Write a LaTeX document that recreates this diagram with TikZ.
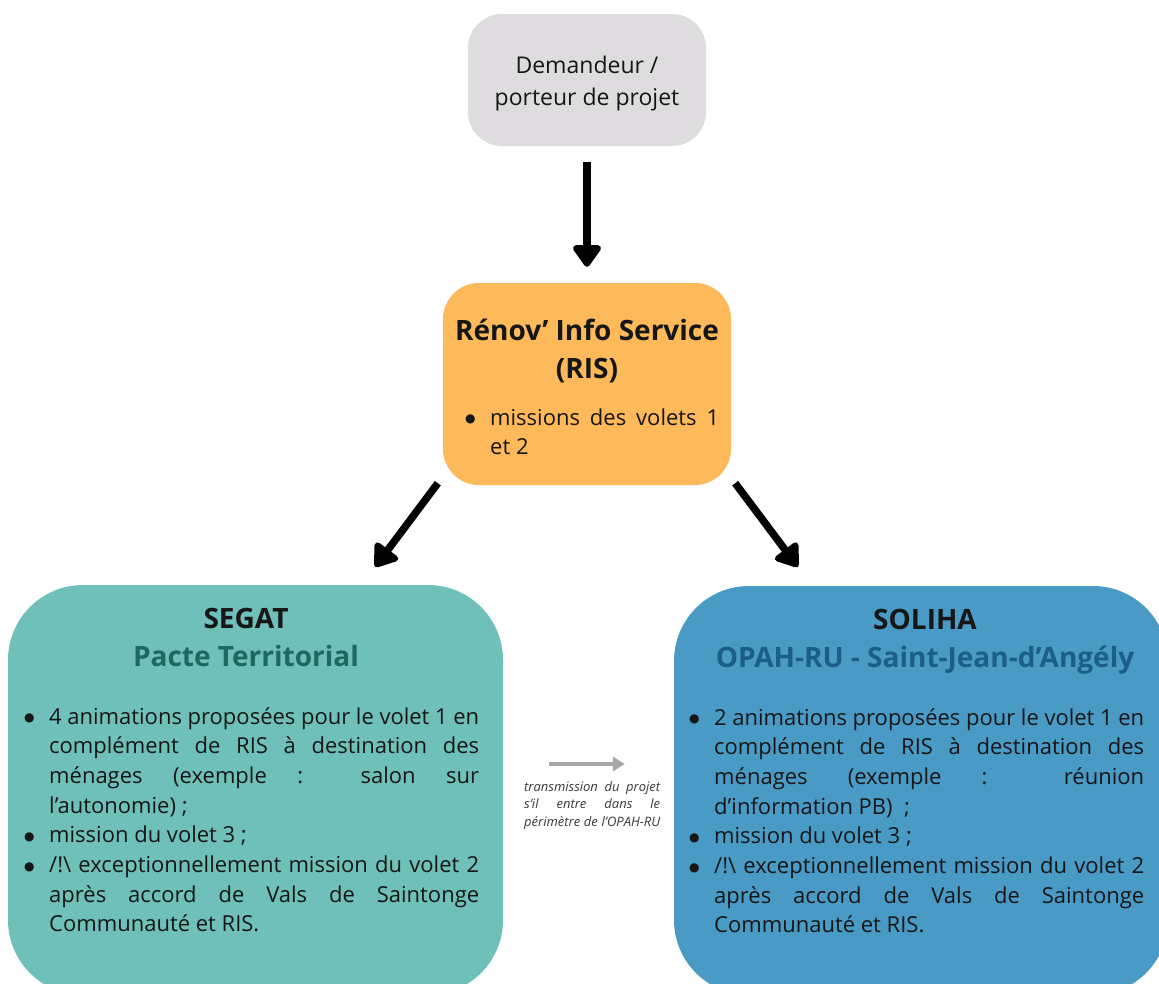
\documentclass[tikz,border=0pt]{standalone}
\usepackage{fontspec}
\setmainfont{Open Sans}
\newfontfamily\symfont{DejaVu Sans}
\usetikzlibrary{arrows.meta}
\definecolor{graybg}{HTML}{DEDCDE}
\definecolor{orangebg}{HTML}{FDB95A}
\definecolor{tealbg}{HTML}{6EC0B8}
\definecolor{bluebg}{HTML}{4A9AC6}
\definecolor{tealtitle}{HTML}{1F6860}
\definecolor{bluetitle}{HTML}{1B5E88}
\definecolor{bodytext}{HTML}{161616}
\definecolor{grayarrow}{HTML}{A6A6A6}
\newcommand\bodyfont{\fontsize{22}{29.7}\selectfont}
\newcommand\topfont{\fontsize{23}{32}\selectfont}
\newcommand\titlefont{\bfseries\fontsize{28}{38.5}\selectfont}
\newcommand\smallfont{\itshape\fontsize{13}{17.5}\selectfont}
% bullet column 27pt wide, text column follows
\newcommand\bul{\makebox[27pt][l]{\hspace{2pt}\raisebox{2.5pt}{\symfont\fontsize{12}{12}\selectfont ●}}}
\newcommand\ind{\hspace*{27pt}}
\newcommand\jl[1]{\makebox[\linewidth][s]{#1}}
\newcommand\bj[2]{\makebox[#1][s]{#2}}
\begin{document}
\begin{tikzpicture}[x=1pt,y=-1pt,
  box/.style={draw=none, inner sep=0pt},
  txt/.style={inner sep=0pt, anchor=base west, text=bodytext},
  ctxt/.style={inner sep=0pt, anchor=base, text=bodytext},
  bigarrow/.style={line width=7.5pt, black, -{Triangle[width=32pt,length=24pt,round]}},
  smallarrow/.style={line width=4pt, grayarrow, -{Triangle[width=14pt,length=12pt]}}]
\useasboundingbox (0,0) rectangle (1159,983);
\clip (0,0) rectangle (1159,983);
\fill[white] (0,0) rectangle (1159,983);

% boxes
\node[box, fill=graybg, minimum width=238pt, minimum height=132pt, rounded corners=34pt] (dem) at (587,80) {};
\node[box, fill=orangebg, minimum width=288pt, minimum height=202pt, rounded corners=36pt] (ris) at (587,384) {};
\node[box, fill=tealbg, minimum width=495pt, minimum height=410pt, rounded corners=75pt] (segat) at (255.5,790) {};
\node[box, fill=bluebg, minimum width=494pt, minimum height=409pt, rounded corners=75pt] (soliha) at (921,790.5) {};

% top text
\node[ctxt, font=\topfont] (demtext) at (587,73)
  {\parbox[t]{230pt}{\centering Demandeur /\\porteur de projet}};

% RIS text
\node[ctxt, font=\titlefont] (ristitle) at (587,340)
  {\parbox[t]{290pt}{\centering Rénov’ Info Service\\(RIS)}};
\node[txt, font=\bodyfont] (ristext) at (463,425)
  {\parbox[t]{256pt}{\bul\bj{229pt}{missions des volets 1}\\\ind et 2}};

% SEGAT text
\node[ctxt, font=\titlefont] (segattitle) at (246,628)
  {\parbox[t]{440pt}{\centering SEGAT\\\textcolor{tealtitle}{Pacte Territorial}}};
\node[txt, font=\bodyfont] (segattext) at (22,724)
  {\parbox[t]{457pt}{%
  \bul\bj{430pt}{4 animations proposées pour le volet 1 en}\\
  \ind\bj{430pt}{complément de RIS à destination des}\\
  \ind\bj{430pt}{ménages (exemple : salon sur}\\
  \ind l’autonomie) ;\\
  \bul mission du volet 3 ;\\
  \bul\bj{430pt}{/!\textbackslash{} exceptionnellement mission du volet 2}\\
  \ind\bj{430pt}{après accord de Vals de Saintonge}\\
  \ind Communauté et RIS.}};

% SOLIHA text
\node[ctxt, font=\titlefont] (solihatitle) at (925,629)
  {\parbox[t]{470pt}{\centering SOLIHA\\\textcolor{bluetitle}{OPAH-RU - Saint-Jean-d’Angély}}};
\node[txt, font=\bodyfont] (solihatext) at (687,725)
  {\parbox[t]{457pt}{%
  \bul\bj{430pt}{2 animations proposées pour le volet 1 en}\\
  \ind\bj{430pt}{complément de RIS à destination des}\\
  \ind\bj{430pt}{ménages (exemple : réunion}\\
  \ind d’information PB) \ ;\\
  \bul mission du volet 3 ;\\
  \bul\bj{430pt}{/!\textbackslash{} exceptionnellement mission du volet 2}\\
  \ind\bj{430pt}{après accord de Vals de Saintonge}\\
  \ind Communauté et RIS.}};

% small italic text
\node[txt, font=\smallfont, text=bodytext!85] (transtext) at (524,791)
  {\parbox[t]{136pt}{%
  \jl{transmission du projet}\\
  \jl{s’il entre dans le}\\
  \jl{périmètre de l’OPAH-RU}}};

% arrows
\draw[bigarrow] ([yshift=-16pt]dem.south) -- ([yshift=16pt]ris.north);
\coordinate (l1) at ([xshift=-5pt,yshift=2pt]ris.south west);
\coordinate (l2) at ([xshift=-128pt,yshift=18pt]segat.north east);
\coordinate (r1) at ([xshift=4pt,yshift=2pt]ris.south east);
\coordinate (r2) at ([xshift=124pt,yshift=19pt]soliha.north west);
\draw[bigarrow] (l1) -- (l2);
\draw[bigarrow] (r1) -- (r2);
\coordinate (g1) at ([xshift=46pt,yshift=26pt]segat.east);
\coordinate (g2) at ([xshift=-49pt,yshift=26.5pt]soliha.west);
\draw[smallarrow] (g1) -- (g2);
\end{tikzpicture}
\end{document}
